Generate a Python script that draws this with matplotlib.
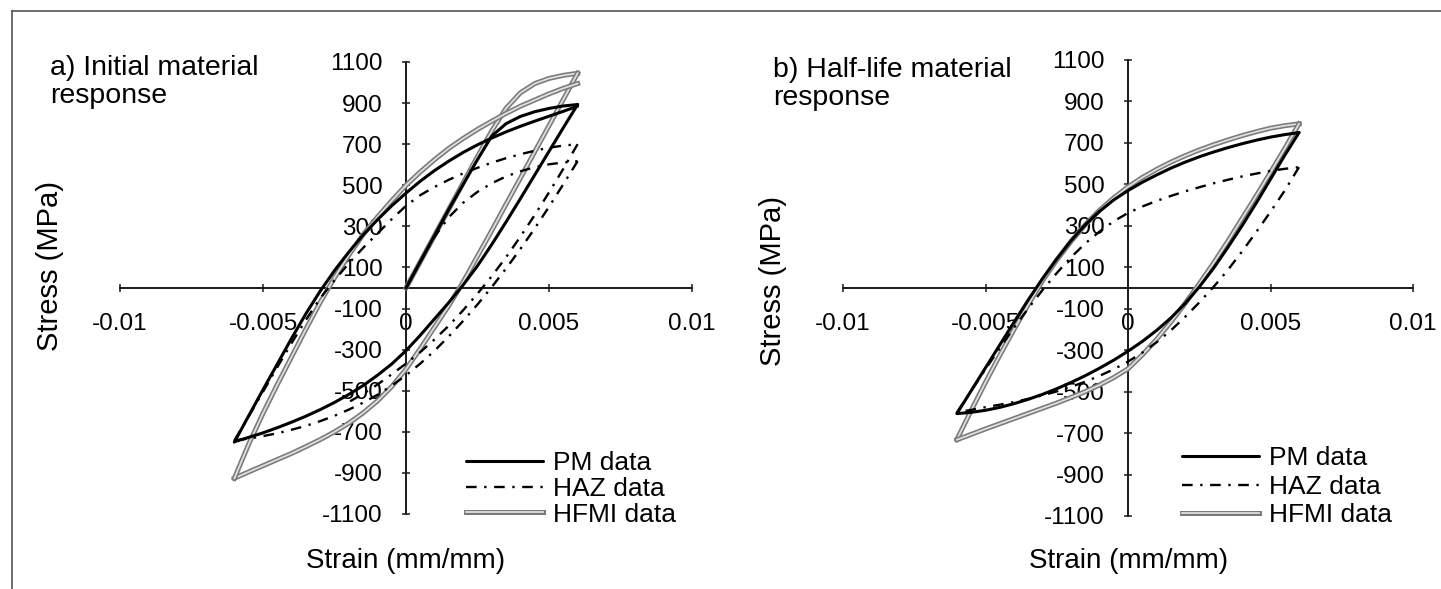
import matplotlib
matplotlib.use("Agg")
import matplotlib.pyplot as plt
import matplotlib.patheffects as pe
from matplotlib.lines import Line2D

plt.rcParams['font.family'] = ['Liberation Sans', 'DejaVu Sans']

W, H = 1441, 589

# ---------------- strain sample points ----------------
strain_init = [0, 0.0005, 0.001, 0.0015, 0.002, 0.0025, 0.003, 0.0035, 0.004, 0.0045, 0.005, 0.0055, 0.006]
strain_up = [-0.006, -0.0055, -0.005, -0.0045, -0.004, -0.0035, -0.003, -0.0025, -0.002, -0.0015, -0.001, -0.0005,
             0, 0.0005, 0.001, 0.0015, 0.002, 0.0025, 0.003, 0.0035, 0.004, 0.0045, 0.005, 0.0055, 0.006]
strain_down = [0.006, 0.0055, 0.005, 0.0045, 0.004, 0.0035, 0.003, 0.0025, 0.002, 0.0015, 0.001, 0.0005,
               0, -0.0005, -0.001, -0.0015, -0.002, -0.0025, -0.003, -0.0035, -0.004, -0.0045, -0.005, -0.0055, -0.006]
strain_down_part = [0.006, 0.0055, 0.005, 0.0045, 0.004, 0.0035, 0.003, 0.0025, 0.002, 0.0015, 0.001, 0.0005,
                    0, -0.0005, -0.001, -0.0015, -0.002]

# ---------------- a) initial material response (stress, MPa) ----------------
pm_a_init = [0, 128, 256, 384, 505, 625, 740, 800, 835, 858, 874, 886, 893]
pm_a_down = [893, 780, 665, 550, 435, 322, 212, 108, 15, -70, -150, -230, -305,
             -370, -425, -475, -518, -557, -592, -624, -653, -680, -705, -727, -748]
pm_a_up = [-750, -622, -495, -370, -245, -125, -15, 85, 175, 258, 332, 400, 462,
           520, 572, 618, 660, 697, 730, 760, 787, 812, 836, 860, 885]

haz_a_init = [0, 128, 250, 345, 415, 468, 510, 543, 568, 588, 602, 611, 617]
haz_a_down1 = [617, 505, 395, 290, 190, 95, 5, -80, -160, -235, -305, -368, -425,
               -475, -520, -558, -592, -622, -648, -671, -690, -707, -721, -733, -742]
haz_a_up = [-742, -625, -505, -385, -268, -155, -50, 38, 120, 195, 265, 335, 400,
            452, 492, 527, 558, 585, 610, 632, 651, 668, 683, 693, 700]
haz_a_down2 = [700, 580, 465, 355, 250, 150, 58, -28, -108, -183, -250, -312, -368,
               -420, -470, -515, -555]

hfmi_a_init = [0, 128, 256, 384, 512, 640, 765, 875, 950, 995, 1020, 1035, 1045]
hfmi_a_down = [1045, 918, 790, 663, 535, 408, 280, 155, 30, -85, -190, -295, -395,
               -480, -550, -608, -658, -700, -738, -772, -805, -835, -865, -895, -926]
hfmi_a_up = [-926, -760, -610, -470, -335, -200, -70, 50, 160, 260, 345, 425, 500,
             565, 625, 680, 728, 772, 812, 850, 885, 915, 945, 972, 995]

# ---------------- b) half-life material response (stress, MPa) ----------------
pm_b_up = [-605, -495, -385, -275, -165, -57, 45, 140, 228, 305, 370, 425, 470,
           510, 545, 578, 607, 633, 656, 677, 696, 713, 728, 740, 750]
pm_b_down = [750, 640, 525, 410, 300, 195, 95, 5, -75, -145, -205, -258, -305,
             -348, -387, -423, -456, -486, -513, -537, -558, -576, -590, -600, -606]

haz_b_up = [-600, -495, -392, -290, -192, -98, -10, 72, 148, 215, 272, 322, 362,
            393, 420, 444, 466, 486, 505, 522, 538, 552, 565, 575, 583]
haz_b_down = [583, 470, 368, 270, 176, 86, 5, -70, -140, -205, -262, -312, -355,
              -392, -424, -452, -477, -499, -518, -535, -550, -563, -575, -588, -600]

hfmi_b_up = [-730, -590, -455, -325, -200, -80, 35, 135, 225, 305, 375, 435, 488,
             533, 572, 607, 638, 666, 691, 714, 735, 754, 771, 783, 792]
hfmi_b_down = [792, 673, 558, 445, 335, 225, 120, 20, -75, -165, -248, -323, -390,
               -432, -468, -500, -528, -555, -580, -605, -630, -655, -680, -706, -732]

x_ticks = [-0.01, -0.005, 0, 0.005, 0.01]
x_tick_labels = ['-0.01', '-0.005', '0', '0.005', '0.01']
y_ticks = [-1100, -900, -700, -500, -300, -100, 100, 300, 500, 700, 900, 1100]
y_tick_labels = ['-1100', '-900', '-700', '-500', '-300', '-100', '100', '300', '500', '700', '900', '1100']
series_labels = ['PM data', 'HAZ data', 'HFMI data']

fig = plt.figure(figsize=(W / 100, H / 100), dpi=100)


def px_rect(x0, x1, y0, y1):
    return [x0 / W, 1 - y1 / H, (x1 - x0) / W, (y1 - y0) / H]


PM_KW = dict(color='black', lw=2.2, solid_joinstyle='round', solid_capstyle='round', zorder=4, clip_on=False)
HAZ_KW = dict(color='black', lw=1.7, linestyle=(0, (4.5, 3.2, 1.0, 3.2)), zorder=4, clip_on=False)
HFMI_KW = dict(color='#dedede', lw=1.3, zorder=3, clip_on=False, solid_joinstyle='round',
               path_effects=[pe.Stroke(linewidth=3.6, foreground='#7a7a7a'), pe.Normal()])


def style_axes(ax):
    ax.set_xlim(-0.01, 0.01)
    ax.set_ylim(-1100, 1100)
    for s in ['top', 'right']:
        ax.spines[s].set_visible(False)
    ax.spines['left'].set_position(('data', 0))
    ax.spines['bottom'].set_position(('data', 0))
    for s in ['left', 'bottom']:
        ax.spines[s].set_linewidth(1.4)
        ax.spines[s].set_color('#1a1a1a')
        ax.spines[s].set_zorder(2)
    ax.set_xticks(x_ticks)
    ax.set_xticklabels(x_tick_labels)
    ax.set_yticks(y_ticks)
    ax.set_yticklabels(y_tick_labels)
    ax.tick_params(axis='both', direction='inout', length=6, width=1.1, color='#1a1a1a', labelsize=17.5)
    ax.tick_params(axis='x', pad=15)
    ax.tick_params(axis='y', pad=14)
    ax.patch.set_visible(False)


def add_legend(ax, hx, hy, spacing):
    h = [Line2D([], [], **PM_KW), Line2D([], [], **HAZ_KW), Line2D([], [], **HFMI_KW)]
    ax.legend(h, series_labels, loc='upper left', bbox_to_anchor=(hx / W, 1 - hy / H),
              bbox_transform=fig.transFigure, frameon=False, fontsize=19,
              handlelength=2.9, handletextpad=0.4, labelspacing=spacing,
              borderpad=0, borderaxespad=0)


# ----- panel a -----
ax1 = fig.add_axes(px_rect(120, 692, 62, 514))
style_axes(ax1)
ax1.plot(strain_init, hfmi_a_init, **HFMI_KW)
ax1.plot(strain_down, hfmi_a_down, **HFMI_KW)
ax1.plot(strain_up, hfmi_a_up, **HFMI_KW)
ax1.plot(strain_init, pm_a_init, **PM_KW)
ax1.plot(strain_down, pm_a_down, **PM_KW)
ax1.plot(strain_up, pm_a_up, **PM_KW)
ax1.plot(strain_init, haz_a_init, **HAZ_KW)
ax1.plot(strain_down, haz_a_down1, **HAZ_KW)
ax1.plot(strain_up, haz_a_up, **HAZ_KW)
ax1.plot(strain_down_part, haz_a_down2, **HAZ_KW)
add_legend(ax1, 466, 451, 0.07)

# ----- panel b -----
ax2 = fig.add_axes(px_rect(843, 1413, 60, 516))
style_axes(ax2)
ax2.plot(strain_up, hfmi_b_up, **HFMI_KW)
ax2.plot(strain_down, hfmi_b_down, **HFMI_KW)
ax2.plot(strain_up, pm_b_up, **PM_KW)
ax2.plot(strain_down, pm_b_down, **PM_KW)
ax2.plot(strain_up, haz_b_up, **HAZ_KW)
ax2.plot(strain_down, haz_b_down, **HAZ_KW)
add_legend(ax2, 1182, 446, 0.18)


# ----- texts -----
def ftext(x, y, s, **kw):
    fig.text(x / W, 1 - y / H, s, **kw)


ftext(50, 55, 'a) Initial material\nresponse', fontsize=20.5, va='top', ha='left', linespacing=1.08)
ftext(773, 57, 'b) Half-life material\nresponse', fontsize=20.5, va='top', ha='left', linespacing=1.08)
ftext(50, 266, 'Stress (MPa)', fontsize=21, rotation=90, va='center', ha='center')
ftext(773, 281, 'Stress (MPa)', fontsize=21, rotation=90, va='center', ha='center')
ftext(406, 561, 'Strain (mm/mm)', fontsize=20, va='center', ha='center')
ftext(1129, 561, 'Strain (mm/mm)', fontsize=20, va='center', ha='center')

# figure border (top and left edges)
fig.add_artist(Line2D([12 / W, 12 / W], [0, 1 - 11 / H], transform=fig.transFigure, color='#555555', lw=1.2))
fig.add_artist(Line2D([12 / W, 1], [1 - 11 / H, 1 - 11 / H], transform=fig.transFigure, color='#555555', lw=1.2))

fig.savefig('out.png', dpi=100)
